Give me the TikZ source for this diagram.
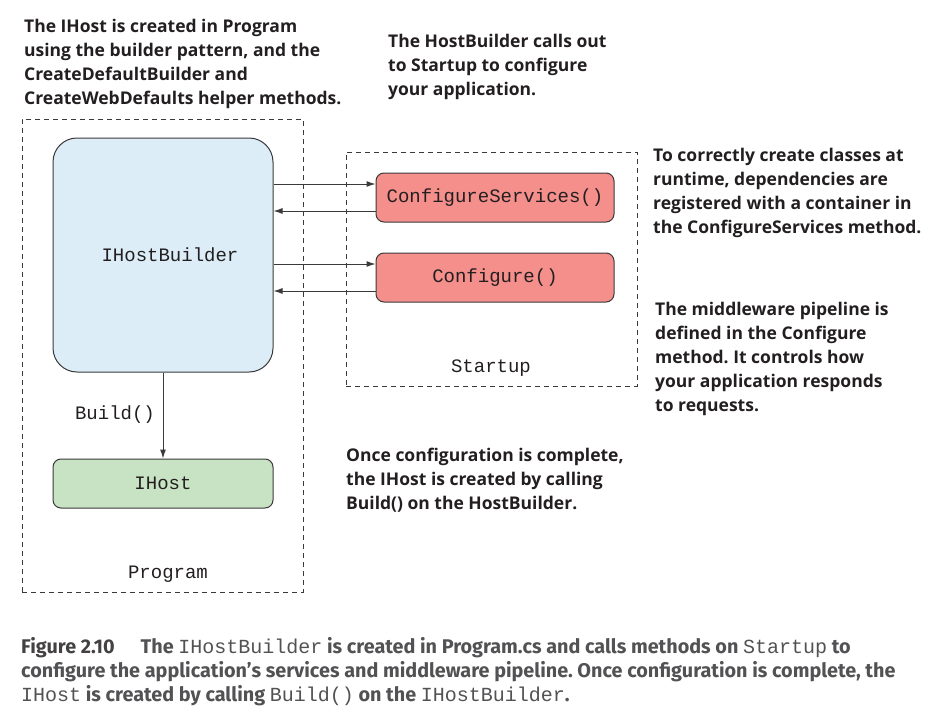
\documentclass[tikz,border=0pt]{standalone}
\usepackage{fontspec}
\newfontfamily\notefont{Open Sans}
\newfontfamily\capfont{Fira Sans}
\setmonofont{Liberation Mono}
\usetikzlibrary{arrows.meta, positioning, calc}
\definecolor{ink}{HTML}{231F20}
\definecolor{edge}{HTML}{3A3A3A}
\definecolor{builderblue}{HTML}{DCEDF8}
\definecolor{hostgreen}{HTML}{C8E3C3}
\definecolor{salmon}{HTML}{F48F8B}
\definecolor{capgray}{HTML}{525254}
\newcommand\capcode[1]{{\ttfamily\mdseries\fontsize{20}{24}\selectfont #1}}
\frenchspacing

\tikzset{
  frame/.style={draw=edge, dash pattern=on 5pt off 4pt, line width=0.9pt, inner sep=0pt},
  box/.style={draw=edge, line width=1pt, rounded corners=8pt, inner sep=0pt,
    font=\ttfamily\fontsize{19}{22}\selectfont, text=ink},
  code/.style={font=\ttfamily\fontsize{19}{22}\selectfont, text=ink, inner sep=0pt},
  note/.style={anchor=north west, align=left, inner sep=0pt, text=ink,
    font=\notefont\bfseries\fontsize{17.5}{24}\selectfont},
  arr/.style={draw=edge, line width=1pt, -{Latex[length=9pt,width=6pt]}}
}

\begin{document}
\begin{tikzpicture}[x=1pt, y=-1pt]
  \useasboundingbox (0,0) rectangle (938,723);
  % dashed frames
  \node[frame, minimum width=281, minimum height=473] (program) at (162.5,355.5) {};
  \node[frame, minimum width=291, minimum height=234] (startup) at (491.5,269) {};
  \node[code] (programlbl) at (168,574) {Program};
  \node[code] (startuplbl) at (491,368) {Startup};

  % boxes
  \node[box, fill=builderblue, rounded corners=24pt, minimum width=220, minimum height=234] (builder) at (163,255) {};
  \node[code] (builderlbl) at (170,255) {IHostBuilder};
  \node[box, fill=hostgreen, minimum width=220, minimum height=49] (host) at (163,483.5) {IHost};
  \node[box, fill=salmon, minimum width=238, minimum height=49] (csvc) at (495,197.5) {ConfigureServices()};
  \node[box, fill=salmon, minimum width=238, minimum height=49] (conf) at (495,277.5) {Configure()};

  % calls out to Startup and back
  \foreach \m in {csvc,conf}{
    \coordinate (\m-in) at ([yshift=13.5pt]\m.west);
    \coordinate (\m-out) at ([yshift=-13.5pt]\m.west);
    \draw[arr] (builder.east |- \m-in) -- (\m-in);
    \draw[arr] (\m-out) -- (builder.east |- \m-out);
  }
  \draw[arr] (builder) -- (host);
  \node[code] (buildlbl) at (115,415) {Build()};

  % annotations
  \node[note] (notehost) at (24,19) {The IHost is created in Program\\using the builder pattern, and the\\CreateDefaultBuilder and\\CreateWebDefaults helper methods.};
  \node[note] (notestartup) at (388,34) {The HostBuilder calls out\\to Startup to configure\\your application.};
  \node[note] (noteservices) at (653,148) {To correctly create classes at\\runtime, dependencies are\\registered with a container in\\the ConfigureServices method.};
  \node[note] (notepipeline) at (655,302) {The middleware pipeline is\\defined in the Configure\\method. It controls how\\your application responds\\to requests.};
  \node[note] (notebuild) at (346,448) {Once configuration is complete,\\the IHost is created by calling\\Build() on the HostBuilder.};

  % caption
  \node[note, text=capgray, font=\capfont\bfseries\fontsize{19.8}{24}\selectfont] (caption) at (21,637)
    {{\color{ink!85}Figure 2.10}\hspace{26pt}The \capcode{IHostBuilder} is created in Program.cs and calls methods on \capcode{Startup} to\\
     configure the application’s services and middleware pipeline. Once configuration is complete, the\\
     \capcode{IHost} is created by calling \capcode{Build()} on the \capcode{IHostBuilder}.};
\end{tikzpicture}
\end{document}
